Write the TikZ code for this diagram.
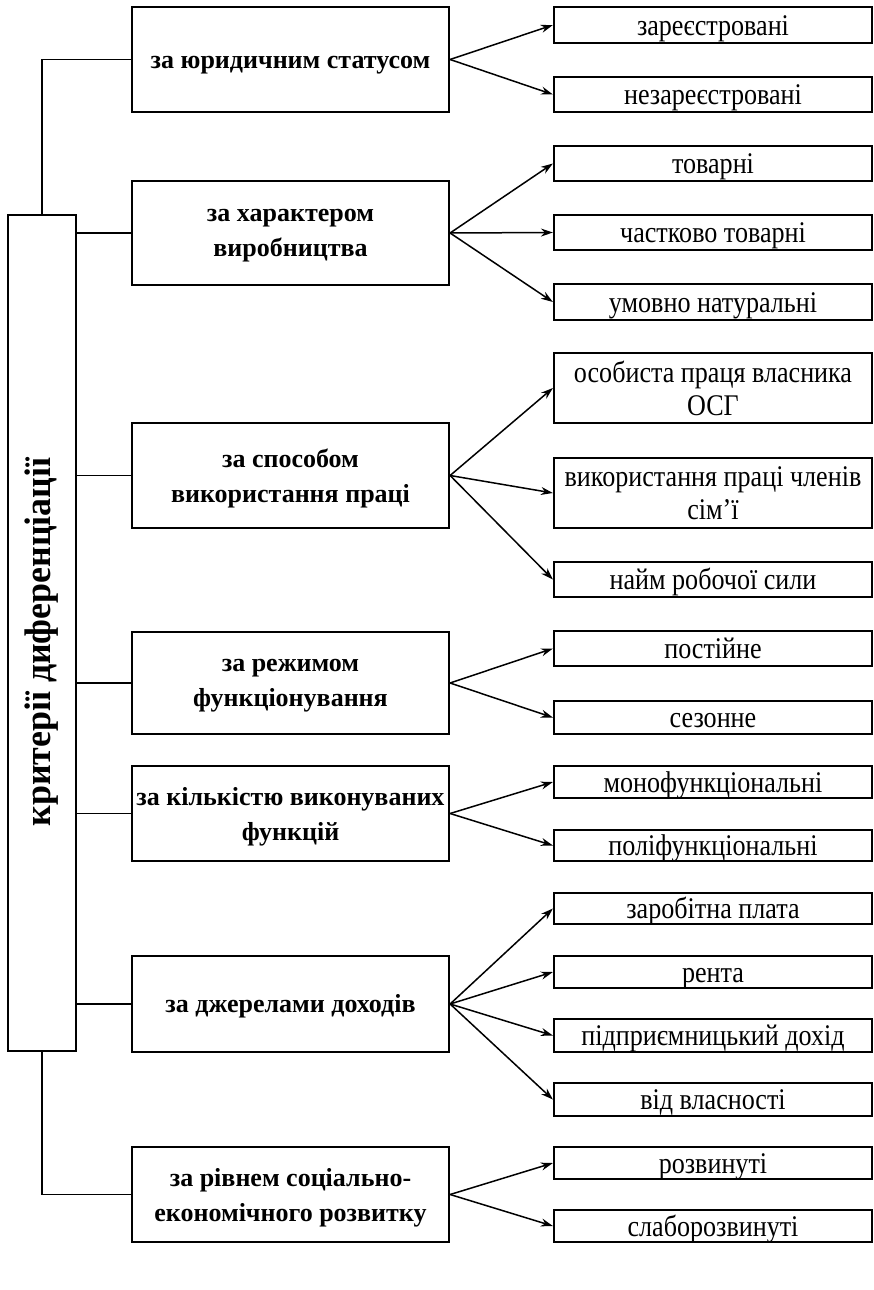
\documentclass[tikz,border=0pt]{standalone}
\usepackage{fontspec}
\setmainfont{Liberation Serif}
\newfontfamily\leaffont[FakeStretch=0.87]{Liberation Serif}
\newfontfamily\rootfont[FakeStretch=0.97]{Liberation Serif}
\usetikzlibrary{arrows.meta}
\begin{document}
\begin{tikzpicture}[x=1pt,y=-1pt,
  box/.style={draw,line width=2.2pt,inner sep=0pt},
  crit/.style={box,minimum width=317pt,font=\fontsize{26}{35}\selectfont\bfseries,
    text height=17.5pt,text depth=0pt},
  crittwo/.style={box,minimum width=317pt,align=center,font=\fontsize{26}{35}\selectfont\bfseries,
    text depth=-7pt},
  leaf/.style={box,minimum width=318pt,font=\leaffont\fontsize{30}{33.3}\selectfont,
    text height=20.5pt,text depth=0pt},
  leaftwo/.style={box,minimum width=318pt,align=center,font=\leaffont\fontsize{30}{33.3}\selectfont,
    text depth=-2pt},
  root/.style={box,minimum width=68pt,minimum height=836pt},
  link/.style={line width=1.4pt},
  arr/.style={line width=1.5pt,-{Stealth[length=12pt,width=8pt]}}
]
\useasboundingbox (0,0) rectangle (874,1290);
\node[root] (L) at (42,633) {};
\node[rotate=90,font=\rootfont\fontsize{37}{40}\selectfont\bfseries] (Lt) at (42,642) {критерії диференціації};

\node[crit,minimum height=105pt] (m1) at (290.5,59.5) {за юридичним статусом};
\node[crittwo,minimum height=104pt] (m2) at (290.5,233) {за характером\\виробництва};
\node[crittwo,minimum height=105pt] (m3) at (290.5,475.5) {за способом\\використання праці};
\node[crittwo,minimum height=102pt] (m4) at (290.5,683) {за режимом\\функціонування};
\node[crittwo,minimum height=95pt] (m5) at (290.5,813.5) {за кількістю виконуваних\\функцій};
\node[crit,minimum height=96pt] (m6) at (290.5,1004) {за джерелами доходів};
\node[crittwo,minimum height=95pt] (m7) at (290.5,1194.5) {за рівнем соціально-\\економічного розвитку};

\node[leaf,minimum height=36pt] (r1) at (713,25) {зареєстровані};
\node[leaf,minimum height=35pt] (r2) at (713,94.5) {незареєстровані};
\node[leaf,minimum height=35pt] (r3) at (713,163.5) {товарні};
\node[leaf,minimum height=35pt] (r4) at (713,232.5) {частково товарні};
\node[leaf,minimum height=36pt] (r5) at (713,302) {умовно натуральні};
\node[leaftwo,minimum height=70pt] (r6) at (713,388) {особиста праця власника\\ОСГ};
\node[leaftwo,minimum height=70pt] (r7) at (713,493) {використання праці членів\\сім’ї};
\node[leaf,minimum height=35pt] (r8) at (713,579.5) {найм робочої сили};
\node[leaf,minimum height=35pt] (r9) at (713,648.5) {постійне};
\node[leaf,minimum height=33pt] (r10) at (713,717.5) {сезонне};
\node[leaf,minimum height=32pt] (r11) at (713,782) {монофункціональні};
\node[leaf,minimum height=31pt] (r12) at (713,845.5) {поліфункціональні};
\node[leaf,minimum height=31pt] (r13) at (713,908.5) {заробітна плата};
\node[leaf,minimum height=32pt] (r14) at (713,972) {рента};
\node[leaf,minimum height=33pt] (r15) at (713,1035.5) {підприємницький дохід};
\node[leaf,minimum height=33pt] (r16) at (713,1099.5) {від власності};
\node[leaf,minimum height=32pt] (r17) at (713,1163) {розвинуті};
\node[leaf,minimum height=32pt] (r18) at (713,1226) {слаборозвинуті};

% root to criteria
\draw[link] (L.north) -- (L.north |- m1.west) -- (m1.west);
\draw[link] (L.south) -- (L.south |- m7.west) -- (m7.west);
\foreach \m in {m2,m3,m4,m5,m6}
  \draw[link] (L.east |- \m.west) -- (\m.west);

% criteria to leaves
\foreach \m/\r in {m1/r1,m1/r2,m2/r3,m2/r4,m2/r5,m3/r6,m3/r7,m3/r8,m4/r9,m4/r10,
  m5/r11,m5/r12,m6/r13,m6/r14,m6/r15,m6/r16,m7/r17,m7/r18}
  \draw[arr] (\m.east) -- (\r.west);
\end{tikzpicture}
\end{document}
